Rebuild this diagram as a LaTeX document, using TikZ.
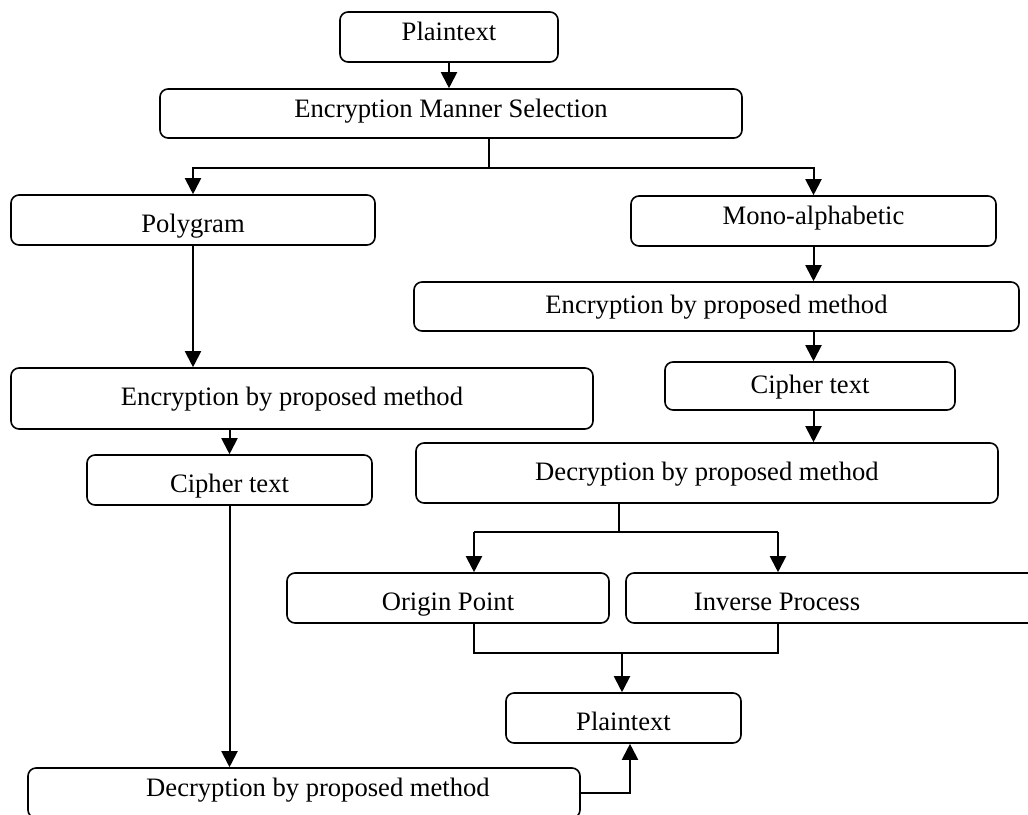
\documentclass[tikz,border=0pt]{standalone}
\usepackage{fontspec}
\setmainfont{Liberation Serif}
\usetikzlibrary{arrows.meta}

\begin{document}
\begin{tikzpicture}[x=0.5pt,y=-0.5pt,
    box/.style={draw,line width=0.8pt,rounded corners=4pt,inner sep=1pt,
      font=\fontsize{13.3}{16}\selectfont,text height=10pt,text depth=3pt},
    boxhi/.style={box,text depth=6.2pt},
    boxlo/.style={box,text height=14pt,text depth=1.2pt},
    arr/.style={line width=1pt,-{Triangle[length=8pt,width=8pt]}},
    link/.style={line width=1pt}]
  \clip (0,0) rectangle (1028,814);
  % encryption side
  \node[boxhi,minimum width=109pt,minimum height=25pt] (pt1) at (449,37) {Plaintext};
  \node[boxhi,minimum width=291pt,minimum height=24.5pt] (sel) at (451,113.5) {Encryption Manner Selection};
  \node[boxlo,minimum width=182pt,minimum height=25pt] (poly) at (193,220) {Polygram};
  \node[boxhi,minimum width=182.5pt,minimum height=25pt] (mono) at (813.5,221) {Mono-alphabetic};
  \node[box,minimum width=291pt,minimum height=30.5pt] (encL) at (302,398.5) {Encryption by proposed method\hspace*{10pt}};
  \node[boxlo,minimum width=142.5pt,minimum height=25pt] (cipL) at (229.5,480) {Cipher text};
  \node[boxhi,minimum width=276pt,minimum height=25pt] (decL) at (304,793) {\hspace*{14pt}Decryption by proposed method};
  \node[box,minimum width=302.5pt,minimum height=24.5pt] (encR) at (716.5,306.5) {Encryption by proposed method};
  \node[box,minimum width=145pt,minimum height=24pt] (cipR) at (810,386) {Cipher text};
  \node[box,minimum width=291pt,minimum height=30pt] (decR) at (707,473) {Decryption by proposed method};
  % decryption side
  \node[boxlo,minimum width=161pt,minimum height=25pt] (orig) at (448,598) {Origin Point};
  \node[boxlo,minimum width=207pt,minimum height=25pt] (inv) at (833,598) {Inverse Process\hspace*{56pt}};
  \node[boxlo,minimum width=117.5pt,minimum height=25pt] (pt2) at (623.5,718) {Plaintext};
  \coordinate (s1) at (489,168);
  \coordinate (s2) at (619,532);
  \coordinate (s2l) at (474,532);
  \coordinate (s2r) at (778,532);
  \coordinate (m) at (622,653);
  % connectors
  \draw[arr] (pt1.south) -- (pt1.south |- sel.north);
  \draw[link] (sel.south -| s1) -- (s1);
  \draw[arr] (s1) -| (poly.north);
  \draw[arr] (s1) -| (mono.north);
  \draw[arr] (poly.south) -- (poly.south |- encL.north);
  \draw[arr] (cipL.north |- encL.south) -- (cipL.north);
  \draw[arr] (cipL.south) -- (cipL.south |- decL.north);
  \draw[arr] (decL.east) -| ([xshift=3.25pt]pt2.south);
  \draw[arr] (mono.south) -- (mono.south |- encR.north);
  \draw[arr] (encR.south -| mono) -- (cipR.north -| mono);
  \draw[arr] (cipR.south -| mono) -- (decR.north -| mono);
  \draw[link] (decR.south -| s2) -- (s2);
  \draw[link] (s2l) -- (s2r);
  \draw[arr] (s2l) -- (s2l |- orig.north);
  \draw[arr] (s2r) -- (s2r |- inv.north);
  \draw[link] (s2l |- orig.south) -- (s2l |- m) -- (s2r |- m) -- (s2r |- inv.south);
  \draw[arr] (m) -- (m |- pt2.north);
\end{tikzpicture}
\end{document}
